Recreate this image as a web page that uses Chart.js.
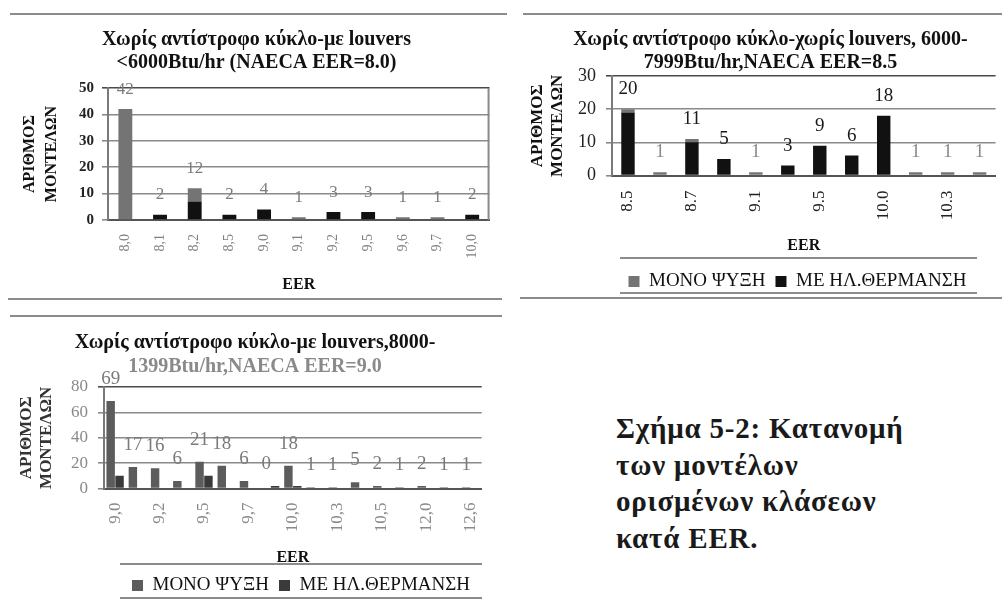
<!DOCTYPE html>
<html>
<head>
<meta charset="utf-8">
<script src="https://cdn.jsdelivr.net/npm/chart.js@4.4.0/dist/chart.umd.min.js"></script>
<style>
html, body { margin: 0; padding: 0; background: #fff; width: 1002px; height: 599px; overflow: hidden; position: relative; }
canvas { position: absolute; }
.rule { position: absolute; height: 2px; background: #8c8c8c; }
#caption { position: absolute; left: 616px; top: 410px; font: bold 29px "Liberation Serif", "Times New Roman", serif; letter-spacing: 0.8px; line-height: 36.7px; color: #1a1a1a; }
</style>
</head>
<body>
<div class="rule" style="left:10px;top:13px;width:497px"></div>
<div class="rule" style="left:523px;top:13px;width:479px"></div>
<div class="rule" style="left:8px;top:298px;width:494px"></div>
<div class="rule" style="left:520px;top:297px;width:482px"></div>
<div class="rule" style="left:10px;top:315px;width:492px"></div>
<div class="rule" style="left:620px;top:257px;width:357px"></div>
<div class="rule" style="left:620px;top:292px;width:357px"></div>
<div class="rule" style="left:120px;top:563px;width:362px"></div>
<div class="rule" style="left:120px;top:597px;width:362px"></div>

<canvas id="c1" width="493" height="286" style="left:10px;top:14px"></canvas>
<canvas id="c2" width="495" height="287" style="left:520px;top:14px"></canvas>
<canvas id="c3" width="500" height="287" style="left:5px;top:318px"></canvas>

<div id="caption">Σχήμα 5-2: Κατανομή<br>των μοντέλων<br>ορισμένων κλάσεων<br>κατά EER.</div>

<script>
// DATA - chart 1: <6000 Btu/hr, with louvers
const eer1 = ['8,0', '8,1', '8,2', '8,5', '9,0', '9,1', '9,2', '9,5', '9,6', '9,7', '10,0'];
const cool1 = [42, 0, 5, 0, 0, 1, 0, 0, 1, 1, 0];
const heat1 = [0, 2, 7, 2, 4, 0, 3, 3, 0, 0, 2];

// DATA - chart 2: 6000-7999 Btu/hr, without louvers
const eer2 = ['8.5', '8.6', '8.7', '8.9', '9.1', '9.3', '9.5', '9.8', '10.0', '10.2', '10.3', '10.5'];
const cool2 = [1, 1, 1, 0, 1, 0, 0, 0, 0, 1, 1, 1];
const heat2 = [19, 0, 10, 5, 0, 3, 9, 6, 18, 0, 0, 0];

// DATA - chart 3: 8000-13999 Btu/hr, with louvers
const eer3 = ['9,0', '9,1', '9,2', '9,3', '9,5', '9,6', '9,7', '9,8', '10,0', '10,1', '10,3', '10,4', '10,5', '11,0', '12,0', '12,5', '12,6'];
const cool3 = [69, 17, 16, 6, 21, 18, 6, 0, 18, 1, 1, 5, 2, 1, 2, 1, 1];
const heat3 = [10, 0, 0, 0, 10, 0, 0, 2, 2, 0, 0, 0, 0, 0, 0, 0, 0];

const yTicks1 = [0, 50, 10];
const yTicks2 = [0, 30, 10];
const yTicks3 = [0, 80, 20];

const serif = "'Liberation Serif', 'Times New Roman', serif";
const GRAY = '#747474';
const BLACK = '#111111';

// Value labels above each category
const barLabels = {
    id: 'barLabels',
    afterDatasetsDraw(chart, args, opts) {
        const ctx = chart.ctx;
        const y0 = chart.scales.y.getPixelForValue(0);
        ctx.save();
        ctx.font = opts.font;
        ctx.textAlign = 'center';
        ctx.textBaseline = 'middle';
        opts.values.forEach((v, i) => {
            let top = y0;
            chart.data.datasets.forEach((ds, d) => {
                const bar = chart.getDatasetMeta(d).data[i];
                if (ds.data[i] > 0) top = Math.min(top, bar.y);
            });
            const x = chart.getDatasetMeta(opts.xFrom).data[i].x;
            ctx.fillStyle = opts.color(i);
            ctx.fillText(String(v), x, top - opts.offset);
        });
        ctx.restore();
    }
};

// Move the legend sideways, and draw a right edge on the plot if asked
const extras = {
    id: 'extras',
    afterLayout(chart, args, opts) {
        if (opts.legendDx && chart.legend) {
            chart.legend.left += opts.legendDx;
            chart.legend.right += opts.legendDx;
        }
    },
    afterDraw(chart, args, opts) {
        if (!opts.rightEdge) return;
        const a = chart.chartArea;
        const ctx = chart.ctx;
        ctx.save();
        ctx.strokeStyle = opts.rightEdge;
        ctx.lineWidth = 2;
        ctx.beginPath();
        ctx.moveTo(a.right - 1, a.top);
        ctx.lineTo(a.right - 1, a.bottom);
        ctx.stroke();
        ctx.restore();
    }
};

function makeChart(id, cfg) {
    const ctx = document.getElementById(id).getContext('2d');
    const showTick = cfg.everyOther ? (v, i) => (i % 2 === 0 ? cfg.labels[i] : '') : (v, i) => cfg.labels[i];
    return new Chart(ctx, {
        type: 'bar',
        data: {
            labels: cfg.labels,
            datasets: cfg.datasets
        },
        options: {
            responsive: false,
            animation: false,
            layout: { padding: { left: cfg.padLeft || 0, right: 0, top: 0, bottom: cfg.padBottom || 0 } },
            datasets: { bar: cfg.barOpts },
            plugins: {
                title: {
                    display: true,
                    text: cfg.title,
                    color: BLACK,
                    font: { family: serif, size: 20, weight: 'bold', lineHeight: 1.15 },
                    padding: { top: cfg.titlePad[0], bottom: 0 }
                },
                subtitle: {
                    display: true,
                    text: cfg.subtitle,
                    color: cfg.subColor || BLACK,
                    font: { family: serif, size: 20, weight: 'bold', lineHeight: 1.15 },
                    padding: { top: cfg.titlePad[1], bottom: cfg.titlePad[2] }
                },
                legend: {
                    display: cfg.legend,
                    position: 'bottom',
                    reverse: cfg.legendReverse,
                    labels: {
                        color: BLACK,
                        font: { family: serif, size: 19 },
                        boxWidth: 11,
                        boxHeight: 11,
                        padding: 10
                    }
                },
                tooltip: { enabled: false },
                barLabels: cfg.valueLabels,
                extras: cfg.extras
            },
            scales: {
                x: {
                    stacked: cfg.stacked,
                    grid: { display: false, drawTicks: false },
                    border: { display: true, color: '#555', width: 2 },
                    ticks: {
                        autoSkip: false,
                        minRotation: 90,
                        maxRotation: 90,
                        padding: cfg.xTickPad,
                        color: cfg.xTickColor,
                        font: { family: serif, size: cfg.xTickSize },
                        callback: showTick
                    },
                    title: {
                        display: true,
                        text: 'EER',
                        color: BLACK,
                        font: { family: serif, size: 16, weight: 'bold', lineHeight: 1.15 },
                        padding: { top: 0, bottom: cfg.xTitlePad }
                    },
                    afterFit: s => { s.height = cfg.xHeight; }
                },
                y: {
                    stacked: cfg.stacked,
                    min: cfg.yTicks[0],
                    max: cfg.yTicks[1],
                    grid: {
                        color: ctx => (ctx.tick && ctx.tick.value === cfg.yTicks[1] ? '#4a4a4a' : '#8a8a8a'),
                        lineWidth: 1.6,
                        tickLength: 6
                    },
                    border: { display: true, color: '#7a7a7a', width: 2 },
                    ticks: {
                        autoSkip: false,
                        stepSize: cfg.yTicks[2],
                        padding: cfg.yTickPad,
                        color: cfg.yTickColor,
                        font: { family: serif, size: cfg.yTickSize, weight: cfg.yTickWeight }
                    },
                    title: {
                        display: true,
                        text: ['ΑΡΙΘΜΟΣ', 'ΜΟΝΤΕΛΩΝ'],
                        color: cfg.yTitleColor || BLACK,
                        font: { family: serif, size: cfg.yTitleSize, weight: 'bold', lineHeight: cfg.yTitleLh / cfg.yTitleSize },
                        padding: { top: cfg.yTitlePad, bottom: 0 }
                    },
                    afterFit: s => { s.width = cfg.yWidth; }
                }
            }
        },
        plugins: [barLabels, extras]
    });
}

// CHART 1
const total1 = cool1.map((v, i) => v + heat1[i]);
makeChart('c1', {
    labels: eer1,
    title: 'Χωρίς αντίστροφο κύκλο-με louvers',
    subtitle: '<6000Btu/hr (NAECA EER=8.0)',
    titlePad: [14.5, 0, 13.5],
    stacked: true,
    barOpts: { categoryPercentage: 1, barPercentage: 0.4 },
    datasets: [
        { label: 'ΜΕ ΗΛ.ΘΕΡΜΑΝΣΗ', data: heat1, backgroundColor: BLACK },
        { label: 'ΜΟΝΟ ΨΥΞΗ', data: cool1, backgroundColor: GRAY }
    ],
    legend: false,
    legendReverse: true,
    yTicks: yTicks1,
    yWidth: 98,
    yTickPad: 8,
    yTickColor: '#222',
    yTickSize: 15,
    yTickWeight: 'bold',
    yTitleSize: 16,
    yTitleLh: 22,
    yTitlePad: 9,
    xHeight: 80,
    xTickPad: 14,
    xTickColor: '#808080',
    xTickSize: 14,
    xTitlePad: 6,
    valueLabels: { values: total1, xFrom: 0, offset: 20, font: '17px ' + serif, color: () => '#7c7c7c' },
    extras: { rightEdge: '#8a8a8a' }
});

// CHART 2
const total2 = cool2.map((v, i) => v + heat2[i]);
makeChart('c2', {
    labels: eer2,
    everyOther: true,
    title: 'Χωρίς αντίστροφο κύκλο-χωρίς louvers, 6000-',
    subtitle: '7999Btu/hr,NAECA EER=8.5',
    titlePad: [14.5, 0, 1.5],
    padLeft: 6,
    padBottom: 0,
    stacked: true,
    barOpts: { categoryPercentage: 1, barPercentage: 0.42 },
    datasets: [
        { label: 'ΜΕ ΗΛ.ΘΕΡΜΑΝΣΗ', data: heat2, backgroundColor: BLACK },
        { label: 'ΜΟΝΟ ΨΥΞΗ', data: cool2, backgroundColor: GRAY }
    ],
    legend: true,
    legendReverse: true,
    yTicks: yTicks2,
    yWidth: 86,
    yTickPad: 10,
    yTickColor: '#222',
    yTickSize: 18,
    yTickWeight: 'normal',
    yTitleSize: 17,
    yTitleLh: 20,
    yTitlePad: 2,
    xHeight: 86.5,
    xTickPad: 15,
    xTickColor: '#222',
    xTickSize: 17,
    xTitlePad: 7,
    valueLabels: { values: total2, xFrom: 0, offset: 20, font: '19px ' + serif, color: i => (heat2[i] > 0 ? '#1a1a1a' : '#8a8a8a') },
    extras: { legendDx: 27 }
});

// CHART 3
makeChart('c3', {
    labels: eer3,
    everyOther: true,
    title: 'Χωρίς αντίστροφο κύκλο-με louvers,8000-',
    subtitle: '1399Btu/hr,NAECA EER=9.0',
    subColor: '#8a8a8a',
    titlePad: [13.5, 1, 8.5],
    stacked: false,
    barOpts: { categoryPercentage: 0.8, barPercentage: 0.95 },
    datasets: [
        { label: 'ΜΟΝΟ ΨΥΞΗ', data: cool3, backgroundColor: '#5c5c5c' },
        { label: 'ΜΕ ΗΛ.ΘΕΡΜΑΝΣΗ', data: heat3, backgroundColor: '#3a3a3a' }
    ],
    legend: true,
    legendReverse: false,
    yTicks: yTicks3,
    yWidth: 99,
    yTickPad: 10,
    yTickColor: '#8a8a8a',
    yTickSize: 17,
    yTickWeight: 'normal',
    yTitleSize: 17,
    yTitleLh: 20,
    yTitlePad: 12,
    yTitleColor: '#333',
    xHeight: 77.5,
    xTickPad: 14,
    xTickColor: '#8a8a8a',
    xTickSize: 17,
    xTitlePad: -1.5,
    valueLabels: { values: cool3, xFrom: 0, offset: 22, font: '19px ' + serif, color: () => '#7a7a7a' },
    extras: { legendDx: 46 }
});
</script>
</body>
</html>
